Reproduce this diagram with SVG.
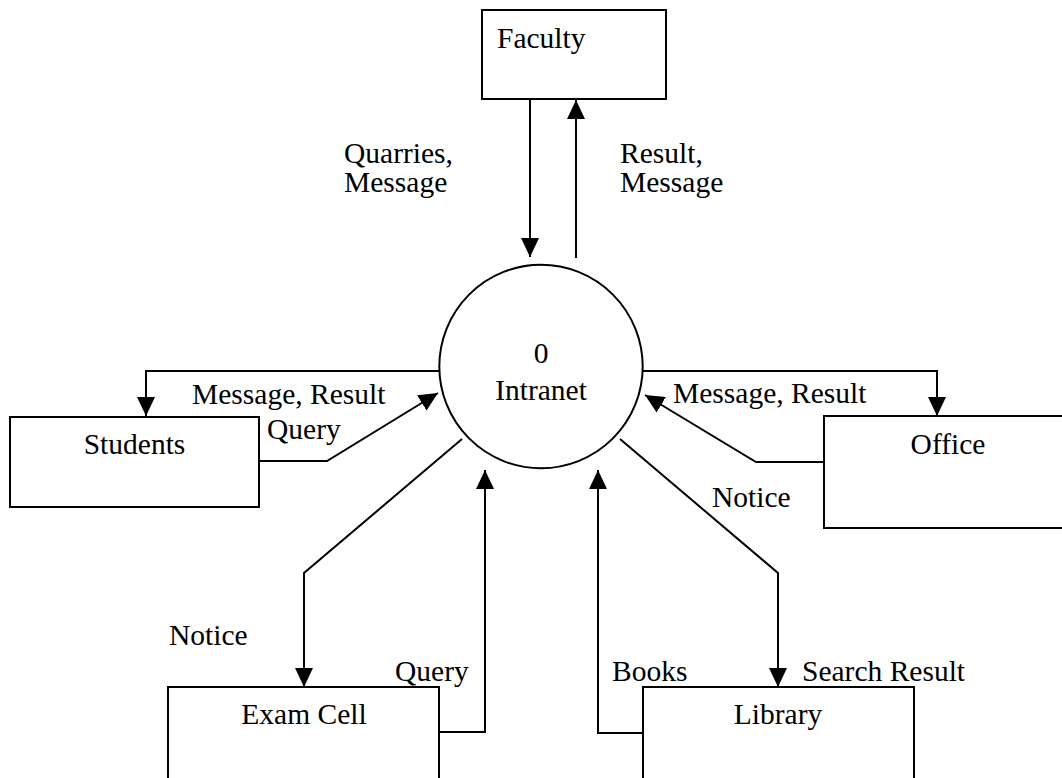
<svg xmlns="http://www.w3.org/2000/svg" width="1062" height="778" viewBox="0 0 1062 778">
  <style>
    .box { fill: #ffffff; stroke: #000000; stroke-width: 2; }
    .flow { fill: none; stroke: #000000; stroke-width: 2; marker-end: url(#head); }
    .c { text-anchor: middle; }
  </style>
  <defs>
    <marker id="head" markerUnits="userSpaceOnUse" markerWidth="20" markerHeight="20" viewBox="0 0 20 20" refX="19" refY="10" orient="auto">
      <path d="M0,1 L19,10 L0,19 Z" fill="#000000"/>
    </marker>
  </defs>

  <rect width="1062" height="778" fill="#ffffff"/>

  <!-- data flows -->
  <g id="connectors">
    <path class="flow" d="M530,99 V257"/>
    <path class="flow" d="M576,258 V100"/>
    <path class="flow" d="M440,371 H146 V416"/>
    <path class="flow" d="M259,461 H327 L438,393"/>
    <path class="flow" d="M642,371 H937 V416"/>
    <path class="flow" d="M824,462 H756 L645,395"/>
    <path class="flow" d="M462,439 L304,573 V687"/>
    <path class="flow" d="M439,732 H485 V470"/>
    <path class="flow" d="M643,733 H598 V470"/>
    <path class="flow" d="M620,439 L778,573 V687"/>
  </g>

  <g font-family="'Liberation Serif', 'Times New Roman', Tinos, 'DejaVu Serif', serif" font-size="29.5" fill="#000000">
    <!-- flow labels -->
    <g id="labels">
      <text x="344" y="163">Quarries,</text>
      <text x="344" y="192">Message</text>
      <text x="620" y="163">Result,</text>
      <text x="620" y="192">Message</text>
      <text x="192" y="404">Message, Result</text>
      <text x="267" y="439">Query</text>
      <text x="673" y="403">Message, Result</text>
      <text x="712" y="507">Notice</text>
      <text x="169" y="645">Notice</text>
      <text x="395" y="681">Query</text>
      <text x="612" y="681">Books</text>
      <text x="802" y="681">Search Result</text>
    </g>

    <g id="faculty">
      <rect class="box" x="482" y="10" width="184" height="89"/>
      <text x="497" y="48">Faculty</text>
    </g>

    <g id="intranet">
      <circle cx="541" cy="366.5" r="101.7" fill="#ffffff" stroke="#000000" stroke-width="2"/>
      <text class="c" x="541" y="363">0</text>
      <text class="c" x="541" y="400">Intranet</text>
    </g>

    <g id="students">
      <rect class="box" x="10" y="417" width="249" height="90"/>
      <text class="c" x="134.5" y="454">Students</text>
    </g>

    <g id="office">
      <rect class="box" x="824" y="416" width="250" height="112"/>
      <text class="c" x="948" y="454">Office</text>
    </g>

    <g id="exam-cell">
      <rect class="box" x="168" y="687" width="271" height="100"/>
      <text class="c" x="304" y="724">Exam Cell</text>
    </g>

    <g id="library">
      <rect class="box" x="643" y="687" width="271" height="100"/>
      <text class="c" x="778" y="724">Library</text>
    </g>
  </g>
</svg>
